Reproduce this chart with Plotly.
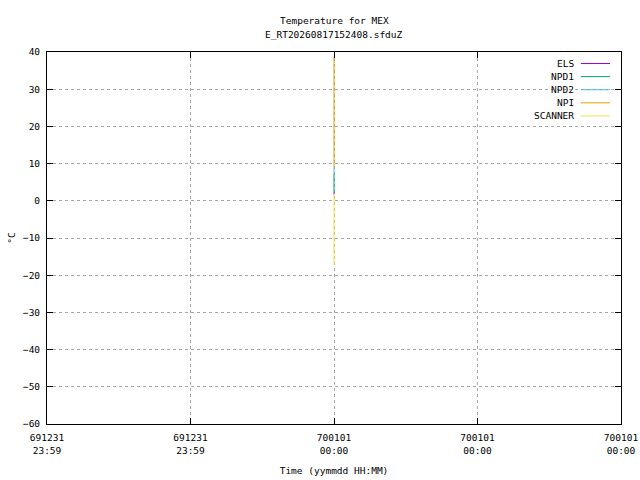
import plotly.graph_objects as go

# instrument temperatures, all stamped at the same instant (epoch)
series = ["ELS", "NPD1", "NPD2", "NPI", "SCANNER"]
colors = ["#9400d3", "#009e73", "#56b4e9", "#e69f00", "#f0e442"]
times = ["1970-01-01 00:00:00", "1970-01-01 00:00:00"]
els = [1.7, 2.3]
npd1 = [2.3, 7.2]
npd2 = [7.2, 9.0]
npi = [9.0, 38.7]
scanner = [-17.3, 1.8]
values = [els, npd1, npd2, npi, scanner]

tick_times = ["1969-12-31 23:59:59", "1969-12-31 23:59:59.5", "1970-01-01 00:00:00",
              "1970-01-01 00:00:00.5", "1970-01-01 00:00:01"]
tick_labels = ["691231<br>23:59", "691231<br>23:59", "700101<br>00:00",
               "700101<br>00:00", "700101<br>00:00"]
y_ticks = list(range(-60, 41, 10))
title_lines = ["Temperature for MEX", "E_RT20260817152408.sfduZ"]

FONT = "DejaVu Sans Mono"

fig = go.Figure()
for name, col, vals in zip(series, colors, values):
    fig.add_trace(go.Scatter(x=times, y=vals, mode="lines", name=name,
                             line=dict(color=col, width=1), showlegend=False))

# two-line title, gnuplot spacing
for i, txt in enumerate(title_lines):
    fig.add_annotation(xref="paper", yref="paper", x=0.5, y=1.086 - i * 0.038,
                       text=txt, showarrow=False, xanchor="center", yanchor="middle",
                       font=dict(family=FONT, size=9.5, color="black"))

# gnuplot-style key: text right-aligned, sample line to the right
fig.add_shape(type="rect", xref="paper", yref="paper", x0=0.84, x1=0.995,
              y0=0.815, y1=0.99, fillcolor="white", line_width=0, layer="below")
for i, (name, col) in enumerate(zip(series, colors)):
    yy = 0.969 - i * 0.0352
    fig.add_annotation(xref="paper", yref="paper", x=0.921, y=yy, text=name,
                       showarrow=False, xanchor="right", yanchor="middle",
                       font=dict(family=FONT, size=9.5, color="black"))
    fig.add_shape(type="line", xref="paper", yref="paper", x0=0.930, x1=0.981,
                  y0=yy, y1=yy, line=dict(color=col, width=1))

axis_common = dict(showline=True, linecolor="black", linewidth=1, mirror="ticks",
                   ticks="inside", ticklen=6, tickcolor="black", showgrid=True,
                   gridcolor="#a8a8a8", griddash="dot", gridwidth=1, zeroline=False,
                   automargin=False,
                   tickfont=dict(family=FONT, size=9.5, color="black"))

fig.update_xaxes(type="date", range=[tick_times[0], tick_times[-1]],
                 tickmode="array", tickvals=tick_times, ticktext=tick_labels,
                 ticklabelstandoff=5,
                 title=dict(text="Time (yymmdd HH:MM)", font=dict(family=FONT, size=9.5),
                            standoff=12),
                 **axis_common)
fig.update_yaxes(range=[-60, 40], tickmode="array", tickvals=y_ticks,
                 ticklabelstandoff=4,
                 title=dict(text="°C", font=dict(family=FONT, size=9.5), standoff=5),
                 **axis_common)

fig.update_layout(
    width=640, height=480,
    margin=dict(l=47, r=19, t=52, b=56),
    paper_bgcolor="white", plot_bgcolor="white",
    font=dict(family=FONT, size=9.5, color="black"),
)

fig.write_html("out.html", config={"displayModeBar": False},
               post_script="document.body.style.margin='0';")
